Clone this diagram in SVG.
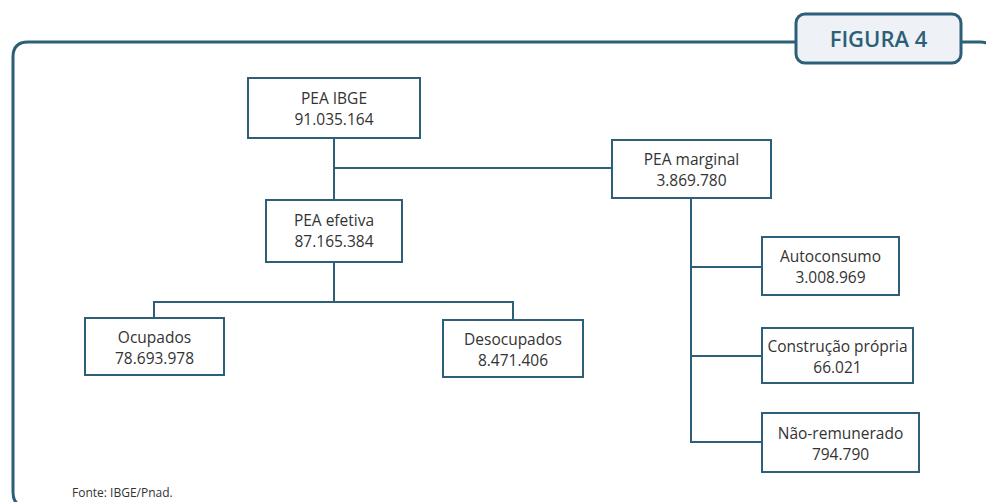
<svg xmlns="http://www.w3.org/2000/svg" width="986" height="502" viewBox="0 0 986 502">
<style>
.frame{fill:none;stroke:#2d5f78;stroke-width:3}
.box{fill:#fff;stroke:#2d5f78;stroke-width:2}
.conn{fill:none;stroke:#2d5f78;stroke-width:2}
.t{font-family:"Open Sans","Noto Sans",sans-serif;font-size:15.5px;fill:#333;text-anchor:middle}
.src{font-family:"Open Sans","Noto Sans",sans-serif;font-size:12px;fill:#333}
.fig{font-family:"Open Sans","Noto Sans",sans-serif;font-size:22px;font-weight:600;fill:#2d5f78;text-anchor:middle}
</style>
<rect width="986" height="502" fill="#fff"/>
<path class="frame" d="M995,520 L995,57 Q995,42 980,42 L28,42 Q13,42 13,57 L13,492 Q13,507 28,507 L995,507"/>
<g id="title">
<rect x="796" y="14" width="165" height="49" rx="9" fill="#eef2f6" stroke="#2d5f78" stroke-width="3"/>
<text class="fig" x="878.5" y="47">FIGURA 4</text>
</g>
<g id="connectors">
<path class="conn" d="M334,138 V200 M334,168 H612"/>
<path class="conn" d="M334,262 V302 M154,318 V302 H513 V320"/>
<path class="conn" d="M691,198 V442 H762 M691,267 H762 M691,356 H762"/>
</g>
<g id="pea-ibge">
<rect class="box" x="248" y="78" width="172" height="60"/>
<text class="t" x="334" y="104">PEA IBGE</text>
<text class="t" x="334" y="125">91.035.164</text>
</g>
<g id="pea-efetiva">
<rect class="box" x="266" y="200" width="136" height="62"/>
<text class="t" x="334" y="226">PEA efetiva</text>
<text class="t" x="334" y="247">87.165.384</text>
</g>
<g id="pea-marginal">
<rect class="box" x="612" y="140" width="159" height="58"/>
<text class="t" x="691.5" y="165">PEA marginal</text>
<text class="t" x="691.5" y="186">3.869.780</text>
</g>
<g id="ocupados">
<rect class="box" x="85" y="318" width="139" height="57"/>
<text class="t" x="154.5" y="343">Ocupados</text>
<text class="t" x="154.5" y="364">78.693.978</text>
</g>
<g id="desocupados">
<rect class="box" x="443" y="320" width="140" height="57"/>
<text class="t" x="513" y="345">Desocupados</text>
<text class="t" x="513" y="366">8.471.406</text>
</g>
<g id="autoconsumo">
<rect class="box" x="762" y="237" width="137" height="58"/>
<text class="t" x="830.5" y="262">Autoconsumo</text>
<text class="t" x="830.5" y="283">3.008.969</text>
</g>
<g id="construcao">
<rect class="box" x="762" y="328" width="151" height="55"/>
<text class="t" x="837.5" y="352">Construção própria</text>
<text class="t" x="837.5" y="373">66.021</text>
</g>
<g id="nao-remunerado">
<rect class="box" x="762" y="413" width="157" height="59"/>
<text class="t" x="840.5" y="439">Não-remunerado</text>
<text class="t" x="840.5" y="460">794.790</text>
</g>
<text class="src" x="72" y="497">Fonte: IBGE/Pnad.</text>
</svg>
